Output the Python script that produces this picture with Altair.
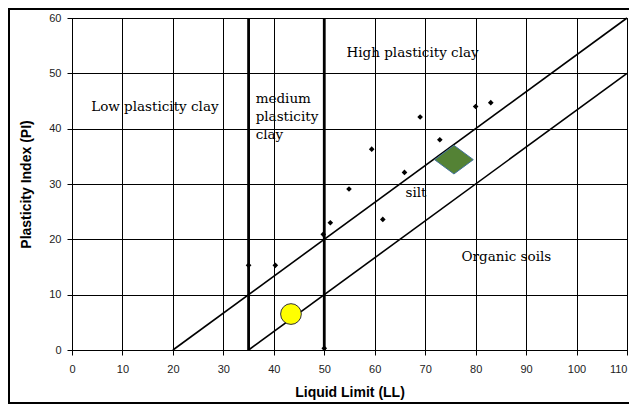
import altair as alt
import pandas as pd

# ---- data ----
ll_ticks = [0, 10, 20, 30, 40, 50, 60, 70, 80, 90, 100, 110]
pi_ticks = [0, 10, 20, 30, 40, 50, 60]

point_ll = [35.0, 40.3, 49.8, 51.2, 54.9, 59.4, 61.6, 65.9, 69.0, 72.9, 80.0, 83.0, 50.0]
point_pi = [15.3, 15.3, 20.9, 23.0, 29.1, 36.3, 23.6, 32.1, 42.1, 38.0, 44.0, 44.7, 0.3]

upper_ll = [20, 110]
upper_pi = [0, 60]
lower_ll = [35, 110]
lower_pi = [0, 50]
divider_ll = [35, 50]

zone_labels = ["Low plasticity clay", "medium", "plasticity", "clay",
               "High plasticity clay", "silt", "Organic soils"]
zone_ll = [3.8, 36.4, 36.4, 36.4, 54.4, 66.1, 77.2]
zone_pi = [43.9, 45.4, 42.1, 38.9, 53.6, 28.3, 16.8]

sample_ll = [75.7]
sample_pi = [34.4]
test_ll = [43.4]
test_pi = [6.5]

# ---- tables ----
pts = pd.DataFrame({"ll": point_ll, "pi": point_pi})
lines = pd.DataFrame({
    "ll": upper_ll + lower_ll,
    "pi": upper_pi + lower_pi,
    "line": ["upper"] * 2 + ["lower"] * 2,
})
divs = pd.DataFrame({"ll": divider_ll})
zones = pd.DataFrame({"ll": zone_ll, "pi": zone_pi, "label": zone_labels})
sample = pd.DataFrame({"ll": sample_ll, "pi": sample_pi})
test = pd.DataFrame({"ll": test_ll, "pi": test_pi})
frame = pd.DataFrame({"k": [0]})

x_label_align = {"condition": {"test": "datum.value >= 110", "value": "right"},
                 "value": "center"}


def X():
    return alt.X("ll:Q", scale=alt.Scale(domain=[0, 110], nice=False, zero=False),
                 axis=alt.Axis(values=ll_ticks, title="Liquid Limit  (LL)",
                               labelPadding=8, titlePadding=11, labelFlush=False,
                               labelAlign=x_label_align))


def Y():
    return alt.Y("pi:Q", scale=alt.Scale(domain=[0, 60], nice=False),
                 axis=alt.Axis(values=pi_ticks, title="Plasticity Index (PI)",
                               labelPadding=6, titlePadding=15, labelFlush=False))


line_layer = alt.Chart(lines).mark_line(color="black", strokeWidth=1.6).encode(
    x=X(), y=Y(), detail="line:N")

div_layer = alt.Chart(divs).mark_rule(color="black", strokeWidth=2.8).encode(x=X())

pts_layer = alt.Chart(pts).mark_point(shape="diamond", filled=True, color="black",
                                      size=32, opacity=1).encode(x=X(), y=Y())

sample_layer = alt.Chart(sample).mark_point(
    shape="M-1,0L0,-0.74L1,0L0,0.74Z", filled=True, fill="#548235",
    stroke="#41719C", strokeWidth=1, size=1500, opacity=1).encode(x=X(), y=Y())

test_layer = alt.Chart(test).mark_circle(
    size=430, color="#FFFF00", stroke="#333333", strokeWidth=1, opacity=1).encode(x=X(), y=Y())

text_layer = alt.Chart(zones).mark_text(
    align="left", baseline="middle", font="DejaVu Serif", fontSize=13.5, color="black").encode(
    x=X(), y=Y(), text="label:N")

# outer picture frame (left, top, bottom edges; the right edge lies outside the crop)
frame_left = alt.Chart(frame).mark_rule(color="black", strokeWidth=2).encode(
    x=alt.value(-63), y=alt.value(-9), y2=alt.value(385))
frame_top = alt.Chart(frame).mark_rule(color="black", strokeWidth=2).encode(
    x=alt.value(-64), x2=alt.value(600), y=alt.value(-9))
frame_bottom = alt.Chart(frame).mark_rule(color="black", strokeWidth=2).encode(
    x=alt.value(-64), x2=alt.value(600), y=alt.value(385))

chart = alt.layer(
    line_layer, div_layer, pts_layer, sample_layer, test_layer, text_layer,
    frame_left, frame_top, frame_bottom
).properties(
    width=555, height=332,
    autosize=alt.AutoSizeParams(type="none"),
    padding={"left": 64, "top": 10, "right": 2, "bottom": 55},
    background="white",
).configure_view(
    stroke="black", strokeWidth=1
).configure_axis(
    grid=True, gridColor="black", gridOpacity=1, gridWidth=1,
    domainColor="black", tickColor="black", tickSize=5,
    labelFont="Liberation Sans", labelFontSize=11, labelColor="#222222",
    titleFont="Liberation Sans", titleFontSize=14, titleFontWeight="bold", titleColor="black",
)

chart.save("out.html", embed_options={"renderer": "svg", "actions": False})
